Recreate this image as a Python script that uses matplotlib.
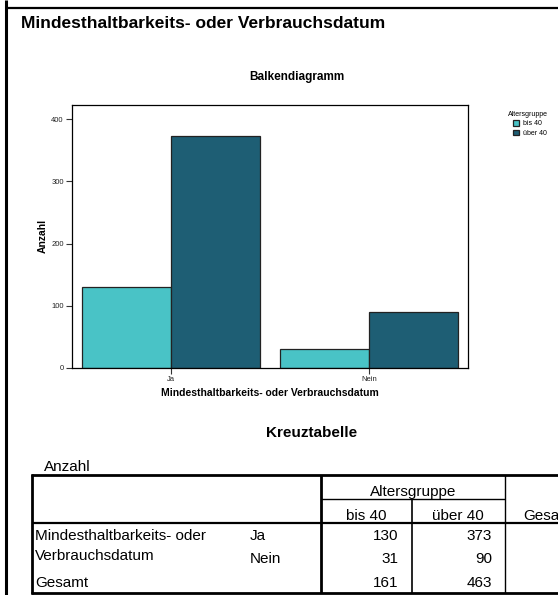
import matplotlib
matplotlib.use("Agg")
import matplotlib.pyplot as plt
from matplotlib.lines import Line2D
import numpy as np

plt.rcParams['font.family'] = ['Liberation Sans', 'DejaVu Sans']

# data
categories = ["Ja", "Nein"]
groups = ["bis 40", "über 40"]
bis40 = [130, 31]
ueber40 = [373, 90]
totals = [161, 463]
colors = ["#49C3C6", "#1E5E74"]

W, H = 558, 595
fig = plt.figure(figsize=(W / 100, H / 100), dpi=100)


def fx(x):
    return x / W


def fy(y):
    return 1 - y / H


def line(x0, y0, x1, y1, lw=1.0):
    fig.add_artist(Line2D([fx(x0), fx(x1)], [fy(y0), fy(y1)], color="black",
                          lw=lw, transform=fig.transFigure, solid_capstyle="butt"))


def text(x, y, s, **kw):
    fig.text(fx(x), fy(y), s, va="baseline", **kw)


# frame of the output block
line(6, 0, 6, H, lw=2.2)
line(6, 8, W, 8, lw=1.6)

text(21, 28, "Mindesthaltbarkeits- oder Verbrauchsdatum", fontsize=12.5, fontweight="bold",
     family=["Liberation Sans Narrow", "Liberation Sans"])

# Bar chart
ax = fig.add_axes([fx(72), fy(368), fx(468) - fx(72), fy(105) - fy(368)])
x = np.arange(len(categories))
w = 0.45
b1 = ax.bar(x - w / 2, bis40, w, color=colors[0], edgecolor="#222222", lw=0.9, label=groups[0])
b2 = ax.bar(x + w / 2, ueber40, w, color=colors[1], edgecolor="#222222", lw=0.9, label=groups[1])
ax.set_xlim(-0.5, 1.5)
ax.set_ylim(0, 422.5)
ax.set_yticks([0, 100, 200, 300, 400])
ax.set_xticks(x)
ax.set_xticklabels(categories)
ax.tick_params(labelsize=5.5, length=4.5, width=0.8, pad=1.5, colors="#333333", labelcolor="#222222")
for s in ax.spines.values():
    s.set_linewidth(0.9)

text(297, 80, "Balkendiagramm", fontsize=8.5, fontweight="bold", ha="center")
text(270, 396, "Mindesthaltbarkeits- oder Verbrauchsdatum", fontsize=7.5, fontweight="bold", ha="center")
fig.text(fx(43), fy(236), "Anzahl", fontsize=7.5, fontweight="bold", rotation=90, ha="center", va="center")

# legend
text(508, 116, "Altersgruppe", fontsize=5)
fig.legend(handles=[b1, b2], loc="upper left", bbox_to_anchor=(fx(513), fy(120)), fontsize=5,
           frameon=False, handlelength=0.9, handleheight=0.9, handletextpad=0.5,
           labelspacing=0.35, borderpad=0, borderaxespad=0)

# Kreuztabelle
text(312, 437, "Kreuztabelle", fontsize=11, fontweight="bold", ha="center")
text(44, 471, "Anzahl", fontsize=11)

line(31, 475, W, 475, lw=2)
line(32, 474, 32, 594, lw=2)
line(31, 593, W, 593, lw=2)
line(32, 523, W, 523, lw=1.6)
line(321, 475, 321, 593, lw=2)
line(321, 499, 505, 499, lw=1)
line(412, 499, 412, 593, lw=1.2)
line(505, 475, 505, 593, lw=1)

tfs = 11
text(413, 496, "Altersgruppe", fontsize=tfs, ha="center")
text(366, 520, groups[0], fontsize=tfs, ha="center")
text(458, 520, groups[1], fontsize=tfs, ha="center")
text(523, 520, "Gesamt", fontsize=tfs)

text(35, 540, "Mindesthaltbarkeits- oder", fontsize=tfs)
text(35, 560, "Verbrauchsdatum", fontsize=tfs)
text(35, 587, "Gesamt", fontsize=tfs)
row_y = [540, 563]
for i, cat in enumerate(categories):
    text(250, row_y[i], cat, fontsize=tfs)
    text(398, row_y[i], str(bis40[i]), fontsize=tfs, ha="right")
    text(492, row_y[i], str(ueber40[i]), fontsize=tfs, ha="right")
text(398, 587, str(totals[0]), fontsize=tfs, ha="right")
text(492, 587, str(totals[1]), fontsize=tfs, ha="right")

fig.savefig("out.png", dpi=100)
